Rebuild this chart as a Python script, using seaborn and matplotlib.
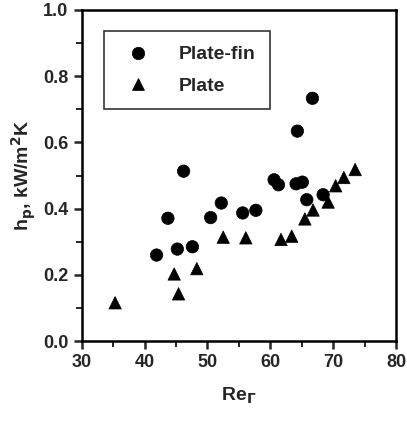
import numpy as np
import pandas as pd
import matplotlib
matplotlib.use("Agg")
import matplotlib.pyplot as plt
import seaborn as sns
from matplotlib.ticker import MultipleLocator

# --- data ---
re_fin = [41.9, 43.7, 45.2, 46.2, 47.6, 50.5, 52.2, 55.6, 57.7, 60.6, 61.3,
          64.1, 65.1, 65.8, 68.4, 64.3, 66.7]
h_fin = [0.260, 0.371, 0.278, 0.513, 0.285, 0.373, 0.417, 0.387, 0.395, 0.487,
         0.472, 0.475, 0.480, 0.427, 0.442, 0.634, 0.733]

re_plate = [35.3, 44.7, 45.4, 48.3, 52.5, 56.1, 61.7, 63.4, 65.5, 66.8, 69.2,
            70.4, 71.7, 73.5]
h_plate = [0.116, 0.203, 0.143, 0.219, 0.314, 0.312, 0.307, 0.317, 0.369,
           0.396, 0.420, 0.469, 0.494, 0.518]

df = pd.concat([
    pd.DataFrame({"Re": re_fin, "h": h_fin, "kind": "Plate-fin"}),
    pd.DataFrame({"Re": re_plate, "h": h_plate, "kind": "Plate"}),
])

sns.set_style("ticks")
plt.rcParams['font.family'] = ['Liberation Sans', 'DejaVu Sans']
plt.rcParams['font.weight'] = 'bold'
plt.rcParams['mathtext.default'] = 'bf'

fig = plt.figure(figsize=(4.07, 4.26), dpi=100)
ax = fig.add_axes([0.201, 0.199, 0.772, 0.778])

sns.scatterplot(data=df, x="Re", y="h", style="kind", hue="kind",
                markers={"Plate-fin": "o", "Plate": "^"},
                palette={"Plate-fin": "black", "Plate": "black"},
                s=80, edgecolor="black", linewidth=0.5, ax=ax, legend=True)

ax.set_xlim(30, 80)
ax.set_ylim(0, 1.0)
ax.xaxis.set_major_locator(MultipleLocator(10))
ax.xaxis.set_minor_locator(MultipleLocator(5))
ax.yaxis.set_major_locator(MultipleLocator(0.2))
ax.yaxis.set_minor_locator(MultipleLocator(0.1))
ax.yaxis.set_major_formatter(plt.FormatStrFormatter('%.1f'))

for sp in ax.spines.values():
    sp.set_linewidth(1.8)
    sp.set_color("black")
ax.tick_params(which="major", length=6, width=1.8, labelsize=13, direction="out")
ax.tick_params(which="minor", length=4, width=1.4, direction="out")
for lab in ax.get_xticklabels() + ax.get_yticklabels():
    lab.set_fontweight("bold")

ax.set_xlabel(r"Re$_{\Gamma}$", fontsize=14, fontweight="bold", labelpad=10)
ax.set_ylabel(r"h$_{p}$, kW/m$^{2}$K", fontsize=14, fontweight="bold", labelpad=4)

leg = ax.legend(loc="upper left", bbox_to_anchor=(0.04, 0.965), frameon=True,
                fancybox=False, edgecolor="black", fontsize=14,
                handletextpad=1.1, borderpad=0.75, labelspacing=0.7,
                markerscale=1.0)
leg.get_frame().set_linewidth(1.2)
for t in leg.get_texts():
    t.set_fontweight("bold")

fig.savefig("out.png", dpi=100)
